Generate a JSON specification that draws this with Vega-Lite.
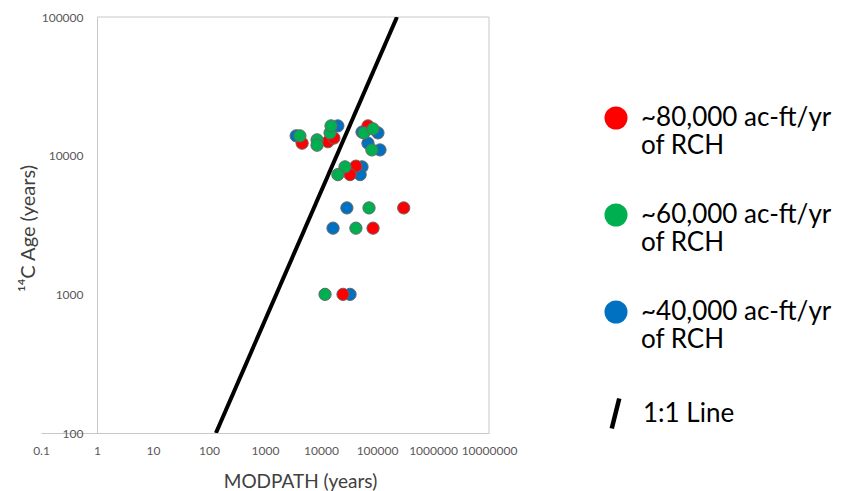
{
  "$schema": "https://vega.github.io/schema/vega-lite/v6.json",
  "width": 448,
  "height": 416,
  "autosize": {"type": "none"},
  "padding": {"left": 41, "top": 17, "right": 361, "bottom": 58},
  "background": "white",
  "config": {"view": {"stroke": null}, "font": "Lato"},
  "datasets": {
    "points": [
      {"x": 3600, "y": 13900, "series": "~40,000 ac-ft/yr of RCH"},
      {"x": 20000, "y": 16400, "series": "~40,000 ac-ft/yr of RCH"},
      {"x": 54000, "y": 14800, "series": "~40,000 ac-ft/yr of RCH"},
      {"x": 104000, "y": 14600, "series": "~40,000 ac-ft/yr of RCH"},
      {"x": 69000, "y": 12300, "series": "~40,000 ac-ft/yr of RCH"},
      {"x": 113000, "y": 11000, "series": "~40,000 ac-ft/yr of RCH"},
      {"x": 54000, "y": 8300, "series": "~40,000 ac-ft/yr of RCH"},
      {"x": 50000, "y": 7300, "series": "~40,000 ac-ft/yr of RCH"},
      {"x": 29000, "y": 4200, "series": "~40,000 ac-ft/yr of RCH"},
      {"x": 16400, "y": 3000, "series": "~40,000 ac-ft/yr of RCH"},
      {"x": 33000, "y": 1000, "series": "~40,000 ac-ft/yr of RCH"},
      {"x": 4600, "y": 12300, "series": "~80,000 ac-ft/yr of RCH"},
      {"x": 13300, "y": 12600, "series": "~80,000 ac-ft/yr of RCH"},
      {"x": 17000, "y": 13400, "series": "~80,000 ac-ft/yr of RCH"},
      {"x": 69000, "y": 16400, "series": "~80,000 ac-ft/yr of RCH"},
      {"x": 42000, "y": 8400, "series": "~80,000 ac-ft/yr of RCH"},
      {"x": 33000, "y": 7300, "series": "~80,000 ac-ft/yr of RCH"},
      {"x": 300000, "y": 4200, "series": "~80,000 ac-ft/yr of RCH"},
      {"x": 85000, "y": 3000, "series": "~80,000 ac-ft/yr of RCH"},
      {"x": 24700, "y": 1000, "series": "~80,000 ac-ft/yr of RCH"},
      {"x": 4200, "y": 13900, "series": "~60,000 ac-ft/yr of RCH"},
      {"x": 8500, "y": 13000, "series": "~60,000 ac-ft/yr of RCH"},
      {"x": 8500, "y": 11900, "series": "~60,000 ac-ft/yr of RCH"},
      {"x": 14500, "y": 14600, "series": "~60,000 ac-ft/yr of RCH"},
      {"x": 15100, "y": 16400, "series": "~60,000 ac-ft/yr of RCH"},
      {"x": 58600, "y": 14600, "series": "~60,000 ac-ft/yr of RCH"},
      {"x": 85000, "y": 15600, "series": "~60,000 ac-ft/yr of RCH"},
      {"x": 81000, "y": 11000, "series": "~60,000 ac-ft/yr of RCH"},
      {"x": 26800, "y": 8300, "series": "~60,000 ac-ft/yr of RCH"},
      {"x": 20000, "y": 7300, "series": "~60,000 ac-ft/yr of RCH"},
      {"x": 72000, "y": 4200, "series": "~60,000 ac-ft/yr of RCH"},
      {"x": 42000, "y": 3000, "series": "~60,000 ac-ft/yr of RCH"},
      {"x": 11800, "y": 1000, "series": "~60,000 ac-ft/yr of RCH"}
    ],
    "oneone": [
      {"x": 133, "y": 100, "series": "1:1 Line"},
      {"x": 227500, "y": 100000, "series": "1:1 Line"}
    ],
    "frame": [
      {"x": 1, "x2": 10000000, "y": 100000, "y2": 100000},
      {"x": 10000000, "x2": 10000000, "y": 100, "y2": 100000}
    ]
  },
  "encoding": {
    "x": {
      "field": "x",
      "type": "quantitative",
      "scale": {"type": "log", "domain": [0.1, 10000000], "nice": false},
      "axis": {
        "title": "MODPATH (years)",
        "values": [0.1, 1, 10, 100, 1000, 10000, 100000, 1000000, 10000000],
        "labelExpr": "datum.value < 1 ? '0.1' : format(datum.value, 'd')",
        "grid": false,
        "ticks": false,
        "tickSize": 0,
        "labelPadding": 12,
        "domainColor": "#C8C8C8",
        "labelColor": "#595959",
        "labelFont": "Lato",
        "labelFontSize": 12,
        "labelFlush": false,
        "labelOverlap": false,
        "titleFont": "Lato",
        "titleFontSize": 19,
        "titleFontWeight": "normal",
        "titleColor": "#404040",
        "titleX": 259,
        "titleY": 48,
        "titleAlign": "center",
        "titleBaseline": "middle"
      }
    },
    "y": {
      "field": "y",
      "type": "quantitative",
      "scale": {"type": "log", "domain": [100, 100000], "nice": false},
      "axis": {
        "title": "¹⁴C Age (years)",
        "values": [100, 1000, 10000, 100000],
        "format": "d",
        "offset": -56,
        "grid": false,
        "ticks": false,
        "tickSize": 0,
        "labelPadding": 14,
        "domainColor": "#C8C8C8",
        "labelColor": "#595959",
        "labelFont": "Lato",
        "labelFontSize": 12,
        "labelFlush": false,
        "labelOverlap": false,
        "titleFont": "Lato",
        "titleFontSize": 20,
        "titleFontWeight": "normal",
        "titleColor": "#404040",
        "titleX": -69,
        "titleY": 211,
        "titleAngle": 270,
        "titleAlign": "center",
        "titleBaseline": "middle"
      }
    }
  },
  "layer": [
    {
      "data": {"name": "frame"},
      "mark": {"type": "rule", "color": "#C8C8C8", "strokeWidth": 1},
      "encoding": {
        "x2": {"field": "x2"},
        "y2": {"field": "y2"}
      }
    },
    {
      "data": {"name": "oneone"},
      "mark": {"type": "line", "strokeWidth": 4, "clip": true},
      "encoding": {
        "stroke": {
          "field": "series",
          "type": "nominal",
          "scale": {"domain": ["1:1 Line"], "range": ["black"]},
          "legend": {
            "title": null,
            "orient": "none",
            "legendX": 557,
            "legendY": 379,
            "padding": 0,
            "symbolType": "M -0.25 1 L 0.25 -1",
            "symbolSize": 900,
            "symbolStrokeWidth": 4.5,
            "symbolStrokeColor": "black",
            "symbolFillColor": "transparent",
            "labelFont": "Lato",
            "labelFontSize": 26,
            "labelColor": "black",
            "labelLimit": 400,
            "labelOffset": 10
          }
        }
      }
    },
    {
      "data": {"name": "points"},
      "mark": {"type": "point", "filled": true, "size": 150, "opacity": 1, "stroke": "#666666", "strokeWidth": 1},
      "encoding": {
        "fill": {
          "field": "series",
          "type": "nominal",
          "scale": {
            "domain": ["~80,000 ac-ft/yr of RCH", "~60,000 ac-ft/yr of RCH", "~40,000 ac-ft/yr of RCH"],
            "range": ["#FF0000", "#00B050", "#0070C0"]
          },
          "legend": {
            "title": null,
            "orient": "none",
            "legendX": 562,
            "legendY": 88,
            "padding": 0,
            "symbolType": "circle",
            "symbolSize": 530,
            "symbolStrokeWidth": 0,
            "symbolOpacity": 1,
            "labelFont": "Lato",
            "labelFontSize": 26,
            "labelColor": "black",
            "labelLimit": 400,
            "labelOffset": 12,
            "rowPadding": 43,
            "labelExpr": "[slice(datum.label, 0, 16), slice(datum.label, 17)]",
            "encode": {"labels": {"update": {"lineHeight": {"value": 32}}}}
          }
        }
      }
    }
  ]
}
